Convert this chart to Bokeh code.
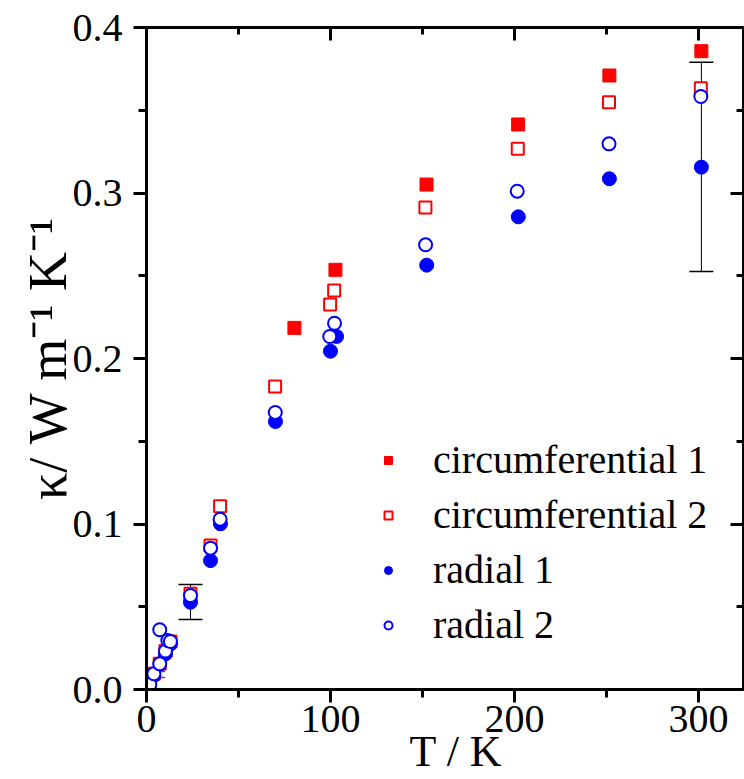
from bokeh.plotting import figure
from bokeh.models import (Range1d, LinearAxis, SingleIntervalTicker, PrintfTickFormatter,
                          Legend, LegendItem, Whisker, TeeHead, ColumnDataSource)
from bokeh.embed import file_html
from bokeh.resources import INLINE

# ---------------- data ----------------
circ1_T = [80.4, 102.7, 152.2, 202.0, 251.6, 301.6]
circ1_k = [0.2185, 0.2536, 0.3051, 0.3414, 0.3710, 0.3857]

circ2_T = [1.8, 4.0, 7.2, 10.3, 13.0, 23.9, 34.8, 40.0, 69.9, 99.8, 102.0, 151.6, 201.8, 251.4, 301.3]
circ2_k = [0.0030, 0.0095, 0.0155, 0.0232, 0.0290, 0.0578, 0.0870, 0.1108, 0.1831, 0.2326,
           0.2411, 0.2912, 0.3267, 0.3549, 0.3633]

rad1_T = [4.0, 10.3, 13.0, 23.9, 34.8, 40.2, 70.1, 100.0, 103.3, 152.3, 202.1, 251.6, 301.6]
rad1_k = [0.0085, 0.0215, 0.0275, 0.0527, 0.0779, 0.1001, 0.1619, 0.2044, 0.2133, 0.2564,
          0.2856, 0.3086, 0.3156]

rad2_T = [1.8, 4.0, 7.2, 7.2, 10.3, 11.6, 13.0, 23.9, 34.8, 40.0, 70.0, 99.6, 102.2, 151.7,
          201.5, 251.4, 301.3]
rad2_k = [0.0030, 0.0095, 0.0155, 0.0361, 0.0232, 0.0296, 0.0290, 0.0568, 0.0854, 0.1029,
          0.1674, 0.2133, 0.2213, 0.2687, 0.3011, 0.3297, 0.3583]

err_T = [23.9, 301.6]
err_lo = [0.0423, 0.2526]
err_hi = [0.0634, 0.3790]

err_small_T = [5.4]
err_small_lo = [0.0073]
err_small_hi = [0.0109]

series_labels = ["circumferential 1", "circumferential 2", "radial 1", "radial 2"]
x_title = "\u00a0\u00a0T / K"
y_title = "κ/ W m⁻¹ K⁻¹"
x_ticks_interval = 100
y_ticks_interval = 0.1

RED = "#FF0000"
BLUE = "#0000FF"
FONT = "Liberation Serif"

# ---------------- figure ----------------
p = figure(width=744, height=779,
           x_range=Range1d(0, 324.5), y_range=Range1d(0, 0.4),
           output_backend="svg", toolbar_location=None,
           x_axis_location=None, y_axis_location=None,
           min_border_left=146, min_border_right=1,
           min_border_top=27, min_border_bottom=90)
p.grid.visible = False
p.outline_line_color = None
p.background_fill_color = "white"
p.border_fill_color = "white"


def make_axis(interval, fmt, outward, labels=True):
    ax = LinearAxis(ticker=SingleIntervalTicker(interval=interval, num_minor_ticks=2),
                    formatter=PrintfTickFormatter(format=fmt),
                    axis_line_width=3, axis_line_color="black",
                    major_tick_line_width=3, minor_tick_line_width=3,
                    major_tick_line_color="black", minor_tick_line_color="black")
    if outward:
        ax.major_tick_out = 13
        ax.major_tick_in = 0
        ax.minor_tick_out = 8
        ax.minor_tick_in = 0
    else:
        ax.major_tick_out = 0
        ax.major_tick_in = 13
        ax.minor_tick_out = 0
        ax.minor_tick_in = 7
    if labels:
        ax.major_label_text_font = FONT
        ax.major_label_text_font_size = "40px"
        ax.major_label_text_color = "black"
        ax.axis_label_text_font = FONT
        ax.axis_label_text_font_style = "normal"
        ax.axis_label_text_color = "black"
    else:
        ax.major_label_text_font_size = "0px"
        ax.major_label_standoff = 0
        ax.axis_label_standoff = 0
    return ax


xb = make_axis(x_ticks_interval, "%d", True)
xb.major_label_standoff = 3
xb.axis_label = x_title
xb.axis_label_text_font_size = "44px"
xb.axis_label_standoff = -8
p.add_layout(xb, "below")

yl = make_axis(y_ticks_interval, "%.1f", True)
yl.major_label_standoff = 11
yl.axis_label = y_title
yl.axis_label_text_font_size = "54px"
yl.axis_label_standoff = -8
p.add_layout(yl, "left")

xt = make_axis(x_ticks_interval, "", False, labels=False)
p.add_layout(xt, "above")

yr = make_axis(y_ticks_interval, "", False, labels=False)
p.add_layout(yr, "right")

# ---------------- error bars ----------------
eb = ColumnDataSource(dict(base=err_T, lower=err_lo, upper=err_hi))
p.add_layout(Whisker(base="base", lower="lower", upper="upper", source=eb, dimension="height",
                     line_color="black", line_width=1,
                     upper_head=TeeHead(size=24, line_color="black", line_width=1.5),
                     lower_head=TeeHead(size=24, line_color="black", line_width=1.5)))
eb2 = ColumnDataSource(dict(base=err_small_T, lower=err_small_lo, upper=err_small_hi))
p.add_layout(Whisker(base="base", lower="lower", upper="upper", source=eb2, dimension="height",
                     line_color="#555555", line_width=1,
                     upper_head=TeeHead(size=17, line_color="#555555", line_width=1.5),
                     lower_head=TeeHead(size=17, line_color="#555555", line_width=1.5)))

# ---------------- markers ----------------
r1 = p.scatter(circ1_T, circ1_k, marker="square", size=13,
               fill_color=RED, line_color=RED, line_width=1)
r2 = p.scatter(circ2_T, circ2_k, marker="square", size=12,
               fill_color="white", line_color=RED, line_width=2)
r3 = p.scatter(rad1_T, rad1_k, marker="circle", size=14,
               fill_color=BLUE, line_color=BLUE, line_width=1)
r4 = p.scatter(rad2_T, rad2_k, marker="circle", size=13,
               fill_color="white", line_color=BLUE, line_width=2)

legend = Legend(items=[LegendItem(label=series_labels[0], renderers=[r1]),
                       LegendItem(label=series_labels[1], renderers=[r2]),
                       LegendItem(label=series_labels[2], renderers=[r3]),
                       LegendItem(label=series_labels[3], renderers=[r4])],
                location=(232, 41),
                label_text_font=FONT, label_text_font_size="40px", label_text_color="black",
                glyph_width=20, glyph_height=20, label_standoff=35, spacing=8,
                padding=0, margin=0, border_line_color=None, background_fill_alpha=0)
p.add_layout(legend)

open("out.html", "w").write(file_html(p, INLINE))
